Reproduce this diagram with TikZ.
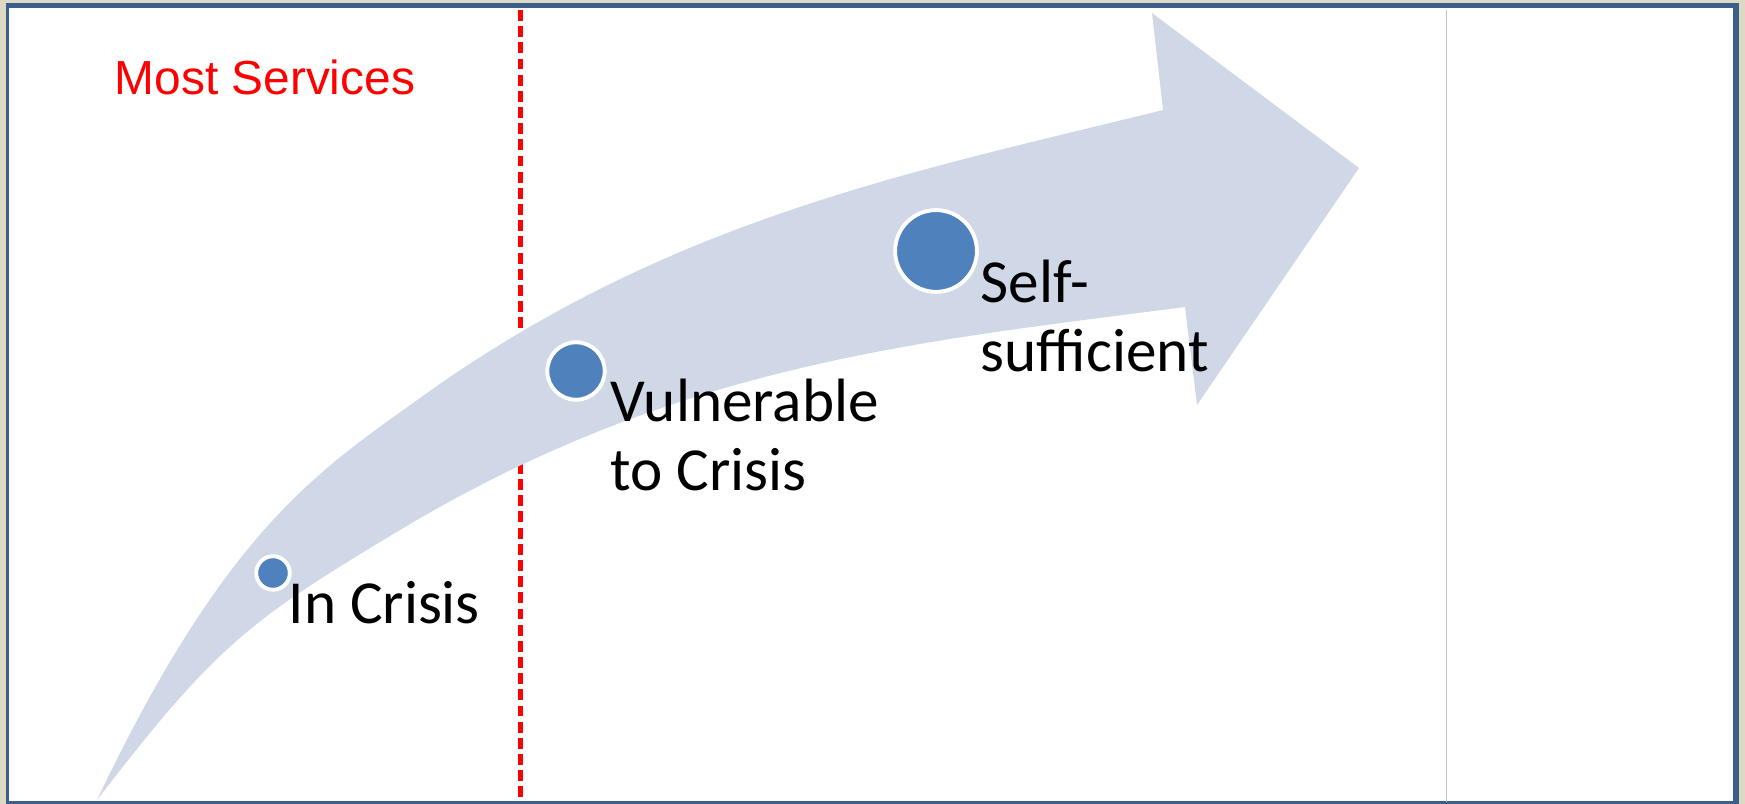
\documentclass[tikz,border=0pt]{standalone}
\usepackage{fontspec}
\newfontfamily\stagefont{Carlito}
\newfontfamily\notefont{Liberation Sans}
\usepackage{tikz}
\definecolor{framebg}{RGB}{221,217,195}
\definecolor{frameblue}{RGB}{59,94,140}
\definecolor{pathfill}{RGB}{208,216,232}
\definecolor{stageblue}{RGB}{79,129,189}
\definecolor{divider}{RGB}{192,192,192}

\begin{document}
\begin{tikzpicture}[x=0.01cm, y=-0.01cm,
    stage/.style={circle, fill=stageblue, draw=white, line width=1.1pt,
                  minimum size=#1, inner sep=0pt},
    stage/.default=5mm,
    lbl/.style={anchor=base west, inner sep=0pt, align=left,
                font=\stagefont\fontsize{17.4}{19.9}\selectfont}
]
\useasboundingbox (0,0) rectangle (1745,804);
% frame
\fill[framebg] (0,0) rectangle (1745,804);
\fill[frameblue] (6,3) rectangle (1739,804);
\fill[white] (9,8.5) rectangle (1733,801.5);

% dividers
\draw[divider, line width=0.5pt] (1446.5,10) -- (1446.5,802);
\draw[red, line width=1.15pt, dash pattern=on 3.1pt off 1.5pt] (520.5,10) -- (520.5,802);

% the curved arrow: upper edge, head, lower edge back to the tail
\fill[pathfill] (97,800) .. controls (227,527) and (320,470) .. (420,398)
  .. controls (670,218) and (913,172) .. (1163,110)
  -- (1152,13) -- (1359,168) -- (1197,405) -- (1185,307)
  .. controls (925,341) and (680,362) .. (400,530)
  .. controls (250,620) and (217,644) .. (97,800) -- cycle;

% stages
\node[stage=3.35mm] (crisis) at (273,573) {};
\node[stage=5.74mm] (vuln) at (576,371) {};
\node[stage=8.17mm] (self) at (936,251) {};

\node[lbl] (crisis-txt) at (288,624) {In Crisis};
\node[lbl] (vuln-txt) at (610,491) {Vulnerable\\to Crisis};
\node[lbl] (self-txt) at (980,372) {Self-\\sufficient};

\node[anchor=base west, inner sep=0pt, text=red,
      font=\notefont\fontsize{13.6}{16}\selectfont] (note) at (114,95) {Most Services};
\end{tikzpicture}
\end{document}
